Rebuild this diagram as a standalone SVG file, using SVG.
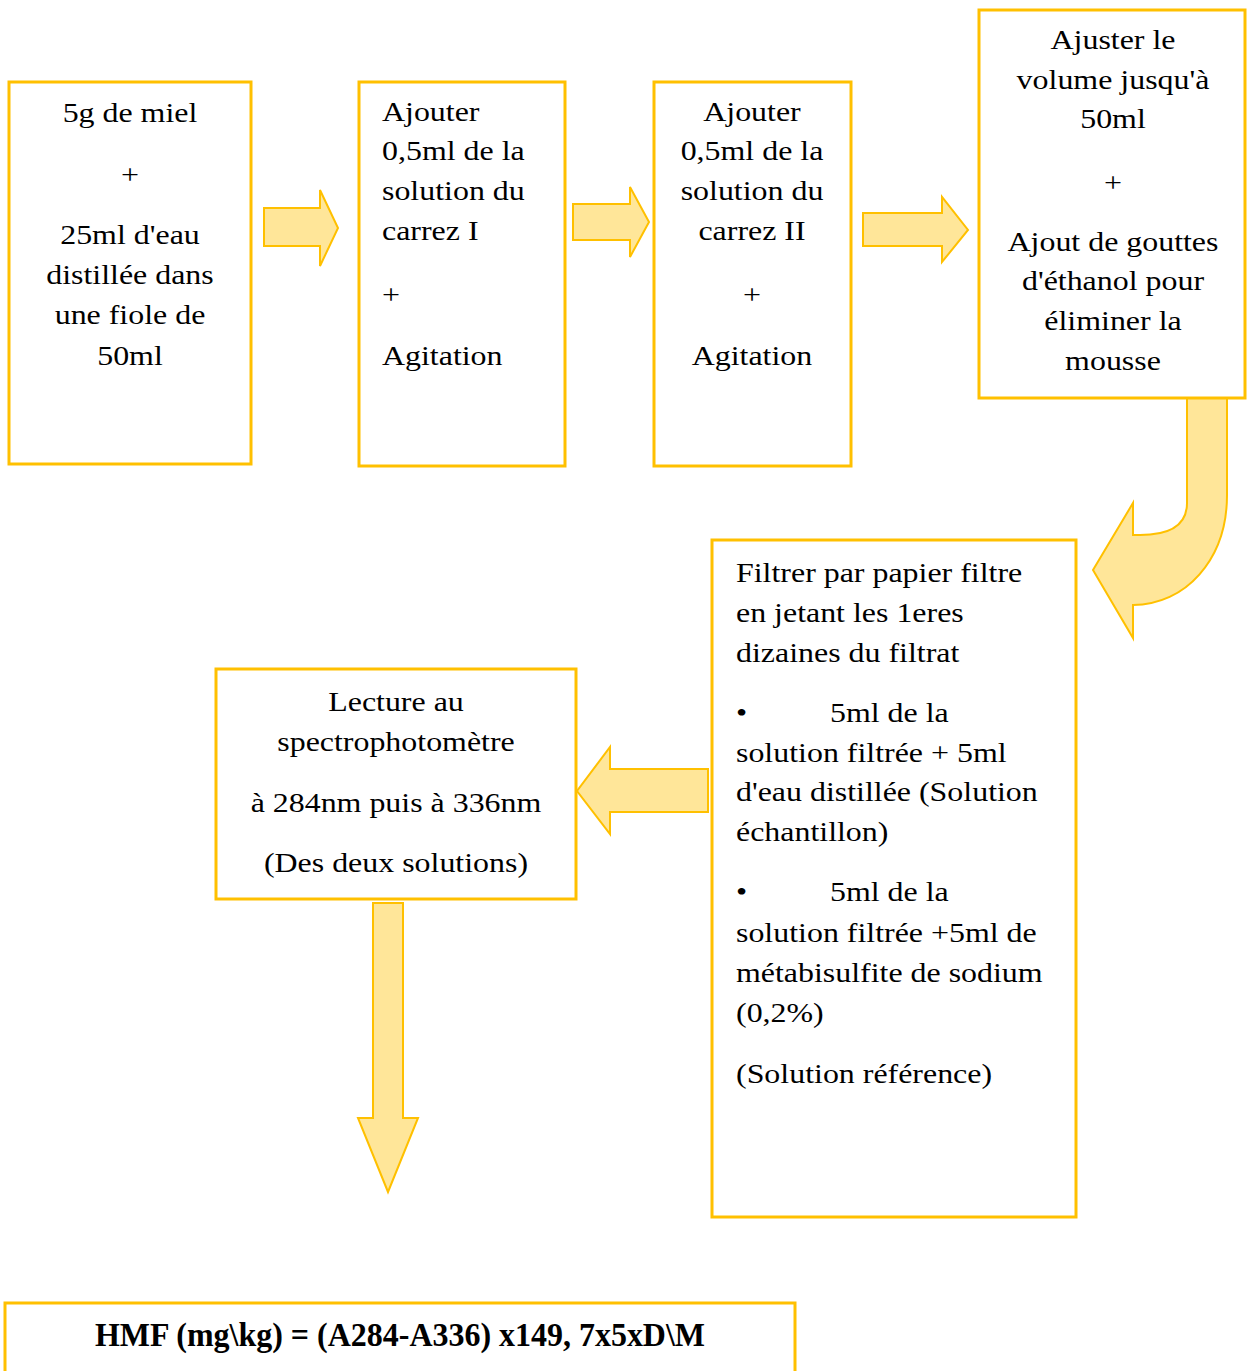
<svg xmlns="http://www.w3.org/2000/svg" width="1247" height="1371" viewBox="0 0 1247 1371">
<style>
.box{fill:#fff;stroke:#FFC000;stroke-width:3}
.arr{fill:#FFE699;stroke:#FFC000;stroke-width:2;stroke-linejoin:miter}
text{font-family:"Liberation Serif","Times New Roman",serif;font-size:28px;fill:#000;transform-box:fill-box;transform-origin:left center;transform:scale(1.14,1)}
.c{text-anchor:middle;transform-origin:center}
.b{font-weight:bold;font-size:34px;transform:none}
</style>
<rect width="1247" height="1371" fill="#fff"/>
<g id="connectors">
<path class="arr" d="M264 208 L320 208 L320 190 L338 228 L320 266 L320 246 L264 246 Z"/>
<path class="arr" d="M573 204 L630 204 L630 187 L649 222 L630 257 L630 240 L573 240 Z"/>
<path class="arr" d="M863 213 L942 213 L942 197 L968 230 L942 262 L942 246 L863 246 Z"/>
<path class="arr" d="M1187 398 L1187 503 C1187 525 1170 535 1140 535 L1133 535 L1133 503 L1093 570 L1133 638 L1133 605 C1185 605 1227 560 1227 495 L1227 398 Z"/>
<path class="arr" d="M708 769 L610 769 L610 747 L577 791 L610 834 L610 812 L708 812 Z"/>
<path class="arr" d="M373 903 L403 903 L403 1118 L418 1118 L388 1192 L358 1118 L373 1118 Z"/>
</g>
<g id="n1">
<rect class="box" x="9" y="82" width="242" height="382"/>
<text class="c" x="130" y="122">5g de miel</text>
<text class="c" x="130" y="184">+</text>
<text class="c" x="130" y="244">25ml d'eau</text>
<text class="c" x="130" y="284">distillée dans</text>
<text class="c" x="130" y="324">une fiole de</text>
<text class="c" x="130" y="365">50ml</text>
</g>
<g id="n2">
<rect class="box" x="359" y="82" width="206" height="384"/>
<text x="382" y="121">Ajouter</text>
<text x="382" y="160">0,5ml de la</text>
<text x="382" y="200">solution du</text>
<text x="382" y="240">carrez I</text>
<text x="382" y="304">+</text>
<text x="382" y="365">Agitation</text>
</g>
<g id="n3">
<rect class="box" x="654" y="82" width="197" height="384"/>
<text class="c" x="752" y="121">Ajouter</text>
<text class="c" x="752" y="160">0,5ml de la</text>
<text class="c" x="752" y="200">solution du</text>
<text class="c" x="752" y="240">carrez II</text>
<text class="c" x="752" y="304">+</text>
<text class="c" x="752" y="365">Agitation</text>
</g>
<g id="n4">
<rect class="box" x="979" y="10" width="266" height="388"/>
<text class="c" x="1113" y="49">Ajuster le</text>
<text class="c" x="1113" y="89">volume jusqu'à</text>
<text class="c" x="1113" y="128">50ml</text>
<text class="c" x="1113" y="192">+</text>
<text class="c" x="1113" y="251">Ajout de gouttes</text>
<text class="c" x="1113" y="290">d'éthanol pour</text>
<text class="c" x="1113" y="330">éliminer la</text>
<text class="c" x="1113" y="370">mousse</text>
</g>
<g id="n5">
<rect class="box" x="712" y="540" width="364" height="677"/>
<text x="736" y="582">Filtrer par papier filtre</text>
<text x="736" y="622">en jetant les 1eres</text>
<text x="736" y="662">dizaines du filtrat</text>
<text x="736" y="722">•</text>
<text x="830" y="722">5ml de la</text>
<text x="736" y="762">solution filtrée + 5ml</text>
<text x="736" y="801">d'eau distillée (Solution</text>
<text x="736" y="841">échantillon)</text>
<text x="736" y="901">•</text>
<text x="830" y="901">5ml de la</text>
<text x="736" y="942">solution filtrée +5ml de</text>
<text x="736" y="982">métabisulfite de sodium</text>
<text x="736" y="1022">(0,2%)</text>
<text x="736" y="1083">(Solution référence)</text>
</g>
<g id="n6">
<rect class="box" x="216" y="669" width="360" height="230"/>
<text class="c" x="396" y="711">Lecture au</text>
<text class="c" x="396" y="751">spectrophotomètre</text>
<text class="c" x="396" y="812">à 284nm puis à 336nm</text>
<text class="c" x="396" y="872">(Des deux solutions)</text>
</g>
<g id="n7">
<rect class="box" x="5" y="1303" width="790" height="80"/>
<text class="c b" x="95" y="1346" text-anchor="start" textLength="610" lengthAdjust="spacingAndGlyphs" style="text-anchor:start">HMF (mg\kg) = (A284-A336) x149, 7x5xD\M</text>
</g>
</svg>
